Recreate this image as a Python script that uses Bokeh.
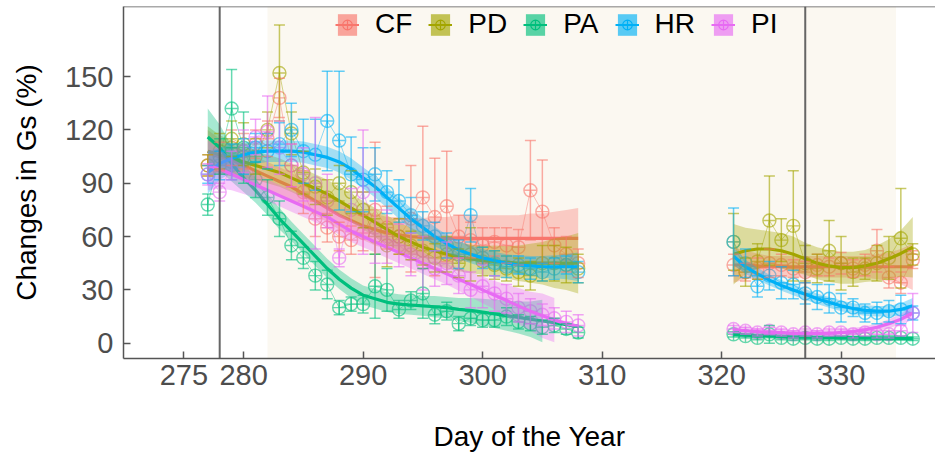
import numpy as np
from bokeh.plotting import figure
from bokeh.models import (ColumnDataSource, Whisker, TeeHead, Span, BoxAnnotation,
                          Legend, LegendItem, Range1d, FixedTicker)
from bokeh.embed import file_html
from bokeh.resources import INLINE

# ---------------- data ----------------
days1 = list(range(277, 309))
days2 = list(range(321, 337))
groups = ["CF", "PD", "PA", "HR", "PI"]
palette = ["#F8766D", "#A3A500", "#00BF7D", "#00B0F6", "#E76BF3"]

cf_mean1 = [100,105,110,108,112,115,138,100,85,70,65,60,58,62,75,65,60,70,82,71,77,60,58,55,57,55,54,86,74,55,50,45]
cf_se1   = [6,8,10,10,8,10,11,12,12,10,8,8,8,10,38,12,10,30,40,33,31,12,10,10,8,10,10,28,29,10,10,8]
cf_mean2 = [44,40,42,45,44,42,40,44,43,45,42,44,52,37,34,47]
cf_se2   = [6,5,6,8,6,5,6,6,5,6,5,6,12,6,6,5]

pd_mean1 = [100,108,115,112,105,120,152,118,96,88,82,90,85,75,60,55,60,55,52,48,50,45,50,46,44,42,40,38,45,45,44,42]
pd_se1   = [6,10,10,12,10,10,27,12,12,10,10,10,12,10,10,12,10,8,8,8,10,8,15,8,8,7,8,8,10,10,10,8]
pd_mean2 = [57,40,46,69,58,66,45,42,52,45,40,42,45,48,59,50]
pd_se2   = [16,8,10,25,12,31,10,8,17,15,8,6,10,12,28,6]

pa_mean1 = [78,105,132,110,92,82,70,55,48,38,33,20,22,22,32,30,19,24,28,16,18,11,14,13,13,15,12,11,9,10,8,6]
pa_se1   = [6,10,22,20,10,10,10,8,6,8,8,4,4,5,18,12,5,5,14,5,5,4,4,4,4,5,4,4,4,4,3,3]
pa_mean2 = [5,4,3,5,3,2.5,3,2.5,2.5,3,2.5,2.5,3,3,3,2.5]
pa_se2   = [1.5,1,1,5,1,1,1,1,1,1,1,1,1,1,1,1]

hr_mean1 = [95,100,102,105,110,108,112,120,108,106,125,114,95,92,95,85,80,72,66,60,55,50,72,48,45,43,44,42,40,42,44,40]
hr_se1   = [5,8,10,10,8,10,12,15,18,20,28,39,21,18,15,12,12,10,8,8,7,8,15,6,7,6,5,6,5,6,5,6]
hr_mean2 = [57,45,32,38,34,33,28,26,25,20,20,17,17,18,19,17]
hr_se2   = [19,8,6,8,9,8,6,7,8,8,5,5,6,6,8,4]

pi_mean1 = [95,85,100,108,116,119,110,100,95,90,80,48,75,85,65,60,55,50,45,42,45,38,30,32,28,25,20,18,16,14,12,10]
pi_se1   = [6,5,8,12,10,20,15,12,15,37,15,5,12,35,20,15,12,12,15,10,12,10,10,12,10,8,8,7,6,6,6,6]
pi_mean2 = [8,7,6,7,6,5,6,5,6,6,5,6,5,5,7,17]
pi_se2   = [2,2,2,2,2,2,2,2,2,2,2,2,2,2,3,11]

# smoothed (loess) curves and half-width of their confidence bands
cf_fit1 = [108,105,103,100,97,94,91,88,84,80,76,72,69,66,64,62,61,60,59.5,59,59,59,59,59,59,59,59,59,59,59,59,59]
cf_hw1  = [12,10,9,8,8,8,8,8,8,8,8,8,8,8,9,9,10,10,11,12,12,13,13,13,13,13,13,14,14,15,16,17]
cf_fit2 = [44,44,43.5,43,43,43,43,43,43,43,43,43,43,43,43,43]
cf_hw2  = [10,8,7,6,6,6,6,6,6,6,6,6,7,8,10,13]

pd_fit1 = [108,106,104,102,100,98,96,93,90,87,84,80,76,72,68,64,60,57,54,52,50,48.5,47.5,46.5,46,45.5,45,45,45,45,45,45]
pd_hw1  = [14,11,10,9,8,8,8,8,8,8,8,8,8,8,8,8,8,8,8,8,8,8,8,8,9,9,10,11,12,14,15,17]
pd_fit2 = [50,52,53,53,52,50,47.5,45,43.5,42.5,42.5,43.5,45,47.5,50.5,54]
pd_hw2  = [17,13,11,10,10,10,9,9,9,9,9,9,10,11,13,17]

pa_fit1 = [116,110,101,93,86,78,70,63,56,49,42,36,31,27,25,23,22,21.5,21,20.5,20,19,18.5,17.5,16.5,15.5,14.5,13.5,12.5,11.5,10.5,9.5]
pa_hw1  = [16,13,10,8,7,6,6,5.5,5.5,5.5,5.5,5.5,5.5,5.5,5.5,5.5,5.5,5.5,5.5,6,6,6.5,7,7.5,8,8.5,9,10,12,13,14,15]
pa_fit2 = [5,4.5,4.2,4,3.8,3.6,3.4,3.3,3.2,3.1,3,3,2.9,2.8,2.7,2.6]
pa_hw2  = [1.5]*16

hr_fit1 = [96,101,104,106,107.5,108,108,108,107.5,106,104.5,102,98,93,88,82,76,70,65,60,56,52.5,50,48,46.5,45,44,43.5,43,43,43,43]
hr_hw1  = [12,9,8,7,6.5,6,6,6,6,6,6,6,6,6,6,6,6,6,5.5,5.5,5,5,5,5,5,5,5.5,5.5,6,6.5,7,8]
hr_fit2 = [49,43,39,35.5,32.5,30,27.5,25,23,21,19.5,18.5,18,18,19,21]
hr_hw2  = [5,4,3.5,3,3,3,3,3,3,3,3,3,3,3,3.5,4.5]

pi_fit1 = [100,98,95,92,89,86,83,80,77,74,71,67,63,60,57,54,51,48,45,42,39,36,33,30,27,24,21,18,15.5,13,11,9.5]
pi_hw1  = [14,11,9,8,7,6,6,6,6,6,6,6,6,6,6,6,6,6,6,6,6,6.5,7,7.5,8,9,10,11,12.5,12.5,14,16]
pi_fit2 = [7.5,7,6.5,6,6,5.5,5.5,5.5,5.5,6,6.5,7.5,9,11,13.5,17]
pi_hw2  = [2,2,2,2,2,2,2,2,2,2,2,2,2,2.5,3,4]

x_ticks = [275, 280, 290, 300, 310, 320, 330]
y_ticks = [0, 30, 60, 90, 120, 150]
y_limits = (0, 180)

series = {
    "CF": [(cf_mean1, cf_se1, cf_fit1, cf_hw1), (cf_mean2, cf_se2, cf_fit2, cf_hw2)],
    "PD": [(pd_mean1, pd_se1, pd_fit1, pd_hw1), (pd_mean2, pd_se2, pd_fit2, pd_hw2)],
    "PA": [(pa_mean1, pa_se1, pa_fit1, pa_hw1), (pa_mean2, pa_se2, pa_fit2, pa_hw2)],
    "HR": [(hr_mean1, hr_se1, hr_fit1, hr_hw1), (hr_mean2, hr_se2, hr_fit2, hr_hw2)],
    "PI": [(pi_mean1, pi_se1, pi_fit1, pi_hw1), (pi_mean2, pi_se2, pi_fit2, pi_hw2)],
}

# ---------------- figure ----------------
FONT = "Liberation Sans"
AX = "#555555"
Y_TOP = 189.4
p = figure(width=935, height=458, output_backend="svg", toolbar_location=None,
           x_range=Range1d(269.95, 337.9), y_range=Range1d(-8.6, Y_TOP),
           min_border_left=123, min_border_right=0, min_border_top=6, min_border_bottom=100)
p.background_fill_color = "white"
p.border_fill_color = "white"
p.outline_line_color = None
p.grid.visible = False

for ax in (p.xaxis[0], p.yaxis[0]):
    ax.axis_line_color = AX
    ax.axis_line_width = 1.5
    ax.major_tick_line_color = AX
    ax.major_tick_line_width = 1.5
    ax.major_tick_in = 7
    ax.major_tick_out = 0
    ax.minor_tick_line_color = None
    ax.major_label_text_font = FONT
    ax.major_label_text_font_size = "29px"
    ax.major_label_text_color = "#4D4D4D"
    ax.axis_label_text_font = FONT
    ax.axis_label_text_font_size = "28px"
    ax.axis_label_text_font_style = "normal"
    ax.axis_label_text_color = "black"

p.xaxis.ticker = FixedTicker(ticks=x_ticks)
p.yaxis.ticker = FixedTicker(ticks=y_ticks)
p.xaxis.axis_label = "Day of the Year"
p.yaxis.axis_label = "Changes in Gs (%)"
p.xaxis.major_label_standoff = 6
p.xaxis.axis_label_standoff = 33
p.yaxis.major_label_standoff = 10
p.yaxis.axis_label_standoff = 20

p.add_layout(BoxAnnotation(left=282, right=334.6, fill_color="#FBF8F1", fill_alpha=1.0,
                           line_color=None, level="underlay"))
p.add_layout(Span(location=Y_TOP, dimension="width", line_color=AX, line_width=1.5))

ALPHA = 0.6
for g, col in zip(groups, palette):
    for seg_days, (mean, se, fit, hw) in zip((days1, days2), series[g]):
        m = np.array(mean, float); s = np.array(se, float)
        src = ColumnDataSource(dict(x=seg_days, y=m, lo=m - s, hi=m + s))
        p.line("x", "y", source=src, line_color=col, line_alpha=0.45, line_width=1)
        w = Whisker(base="x", upper="hi", lower="lo", source=src, line_color=col,
                    line_alpha=ALPHA, line_width=1.5, level="glyph",
                    upper_head=TeeHead(size=11, line_color=col, line_alpha=ALPHA, line_width=1.5),
                    lower_head=TeeHead(size=11, line_color=col, line_alpha=ALPHA, line_width=1.5))
        p.add_layout(w)
        p.scatter("x", "y", source=src, marker="circle_cross", size=13, fill_color=None,
                  line_color=col, line_alpha=ALPHA, line_width=1.4)

for g, col in zip(groups, palette):
    for seg_days, (mean, se, fit, hw) in zip((days1, days2), series[g]):
        f = np.array(fit, float); h = np.array(hw, float)
        lo = f - h; hi = f + h
        ok = (lo >= y_limits[0]) & (hi <= y_limits[1])
        xs = np.array(seg_days, float)
        # contiguous runs of kept rows (rows outside the scale limits are dropped)
        run = []
        for i in range(len(xs) + 1):
            if i < len(xs) and ok[i]:
                run.append(i)
            else:
                if len(run) > 1:
                    p.varea(x=xs[run], y1=lo[run], y2=hi[run], fill_color=col, fill_alpha=0.35)
                run = []
        p.line(seg_days, f, line_color=col, line_width=3.2)

for d in (278, 327):
    p.add_layout(Span(location=d, dimension="height", line_color="#555555",
                      line_width=2, line_alpha=0.9))

# legend keys: renderers with a single NaN row (nothing drawn in the plot area)
items = []
for g, col in zip(groups, palette):
    e = ColumnDataSource(dict(x=[np.nan], y=[np.nan], l=[np.nan], r=[np.nan],
                              t=[np.nan], b=[np.nan]))
    r1 = p.quad(left="l", right="r", top="t", bottom="b", source=e, fill_color=col,
                fill_alpha=0.65, line_color=None)
    r2 = p.line("x", "y", source=e, line_color=col, line_width=2)
    r3 = p.scatter("x", "y", source=e, marker="circle_cross", size=11, fill_color=None,
                   line_color=col, line_width=1.2)
    items.append(LegendItem(label=g, renderers=[r1, r2, r3]))

legend = Legend(items=items, orientation="horizontal", location=(212, 318),
                glyph_width=24, glyph_height=27, label_standoff=16, spacing=16,
                padding=0, margin=0, border_line_color=None, background_fill_alpha=0,
                label_text_font=FONT, label_text_font_size="28px", label_text_color="black")
p.add_layout(legend)

open("out.html", "w").write(file_html(p, INLINE))
